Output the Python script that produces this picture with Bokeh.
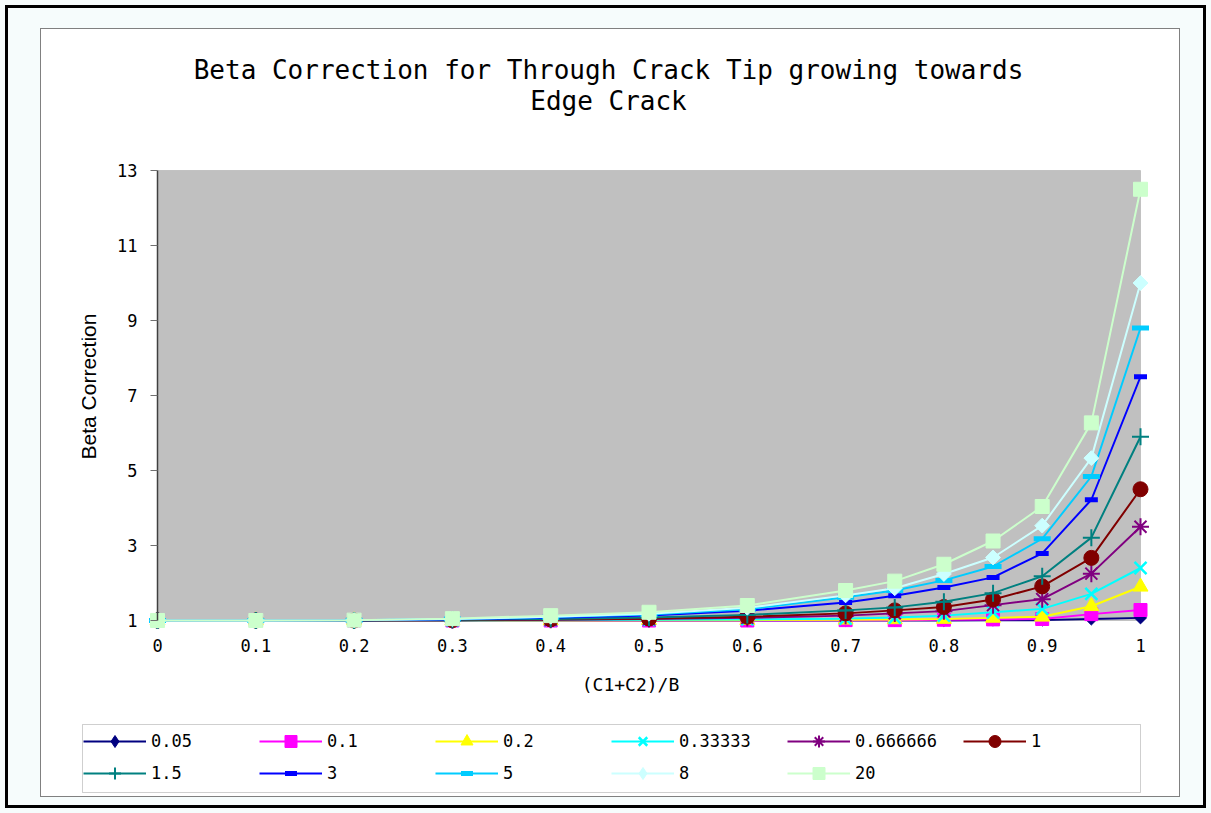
import math
from bokeh.plotting import figure
from bokeh.layouts import column
from bokeh.models import Range1d, FixedTicker, BoxAnnotation, Label, Legend, LegendItem
from bokeh.embed import file_html
from bokeh.resources import INLINE

# ---------------- data ----------------
x_values = [0, 0.1, 0.2, 0.3, 0.4, 0.5, 0.6, 0.7, 0.75, 0.8, 0.85, 0.9, 0.95, 1.0]

series_names = ["0.05", "0.1", "0.2", "0.33333", "0.666666", "1", "1.5", "3", "5", "8", "20"]

beta_0_05 = [1.00, 1.00, 1.00, 1.00, 1.00, 1.00, 1.00, 1.00, 1.00, 1.00, 1.01, 1.01, 1.04, 1.07]
beta_0_1 = [1.00, 1.00, 1.00, 1.00, 1.00, 1.00, 1.00, 1.01, 1.01, 1.02, 1.03, 1.04, 1.17, 1.28]
beta_0_2 = [1.00, 1.00, 1.00, 1.00, 1.00, 1.01, 1.01, 1.02, 1.03, 1.04, 1.07, 1.10, 1.38, 1.90]
beta_0_33333 = [1.00, 1.00, 1.00, 1.00, 1.01, 1.02, 1.03, 1.05, 1.08, 1.13, 1.22, 1.31, 1.71, 2.40]
beta_0_666666 = [1.00, 1.00, 1.00, 1.01, 1.02, 1.04, 1.07, 1.13, 1.19, 1.25, 1.41, 1.57, 2.25, 3.50]
beta_1 = [1.00, 1.00, 1.00, 1.01, 1.03, 1.05, 1.10, 1.19, 1.27, 1.36, 1.56, 1.91, 2.67, 4.50]
beta_1_5 = [1.00, 1.00, 1.00, 1.02, 1.04, 1.08, 1.15, 1.27, 1.35, 1.50, 1.73, 2.18, 3.21, 5.90]
beta_3 = [1.00, 1.00, 1.01, 1.03, 1.07, 1.13, 1.26, 1.48, 1.66, 1.88, 2.15, 2.79, 4.22, 7.50]
beta_5 = [1.00, 1.00, 1.01, 1.04, 1.09, 1.16, 1.30, 1.62, 1.80, 2.07, 2.44, 3.18, 4.84, 8.80]
beta_8 = [1.00, 1.00, 1.01, 1.04, 1.10, 1.18, 1.34, 1.67, 1.86, 2.24, 2.68, 3.53, 5.33, 10.00]
beta_20 = [1.00, 1.00, 1.01, 1.05, 1.13, 1.22, 1.40, 1.80, 2.05, 2.50, 3.12, 4.04, 6.27, 12.50]

series_values = [beta_0_05, beta_0_1, beta_0_2, beta_0_33333, beta_0_666666, beta_1,
                 beta_1_5, beta_3, beta_5, beta_8, beta_20]

x_ticks = [0, 0.1, 0.2, 0.3, 0.4, 0.5, 0.6, 0.7, 0.8, 0.9, 1]
x_tick_labels = ["0", "0.1", "0.2", "0.3", "0.4", "0.5", "0.6", "0.7", "0.8", "0.9", "1"]
y_ticks = [1, 3, 5, 7, 9, 11, 13]
y_tick_labels = ["1", "3", "5", "7", "9", "11", "13"]

title_lines = ["Beta Correction for Through Crack Tip growing towards", "Edge Crack"]
x_axis_label = "(C1+C2)/B"
y_axis_label = "Beta Correction"

# ---------------- styles ----------------
# 'key' is the marker used for the legend key (legend keys are drawn unrotated)
styles = {
    "0.05":     dict(color="#000080", marker="square",   key="diamond",  size=8.5, angle=math.pi / 4, lw=1),
    "0.1":      dict(color="#FF00FF", marker="square",   key="square",   size=13, angle=0, lw=1),
    "0.2":      dict(color="#FFFF00", marker="triangle", key="triangle", size=15, angle=0, lw=1),
    "0.33333":  dict(color="#00FFFF", marker="x",        key="x",        size=17, angle=0, lw=2.5),
    "0.666666": dict(color="#800080", marker="asterisk", key="asterisk", size=17, angle=0, lw=2),
    "1":        dict(color="#800000", marker="circle",   key="circle",   size=15, angle=0, lw=1),
    "1.5":      dict(color="#008080", marker="cross",    key="cross",    size=17, angle=0, lw=2),
    "3":        dict(color="#0000FF", marker="dash",     key="dash",     size=13, angle=0, lw=5),
    "5":        dict(color="#00CCFF", marker="dash",     key="dash",     size=17, angle=0, lw=5),
    "8":        dict(color="#CCFFFF", marker="square",   key="diamond",  size=10.5, angle=math.pi / 4, lw=1),
    "20":       dict(color="#CCFFCC", marker="square",   key="square",   size=14, angle=0, lw=1),
}

# ---------------- layout (page pixels) ----------------
W_ALL, H_ALL = 1211, 813
BOX_L, BOX_T, BOX_R, BOX_B = 41, 29, 1179, 796      # inner white chart box (inside its 1px outline)
SPLIT = 700                                         # main chart above, legend strip below
FL, FR, FT, FB = 81, BOX_R, BOX_T, 630              # main frame on the page
X0_PX, X1_PX = 157, 1140                            # where x=0 and x=1 sit
YMAX_PX, YMIN_PX = 170, 620                         # where y=13 and y=1 sit
LEG_L, LEG_R, LEG_T, LEG_B = 82, 1140, 724, 792     # legend box on the page

x_min, x_max = x_ticks[0], x_ticks[-1]
y_min, y_max = y_ticks[0], y_ticks[-1]
ppx = (X1_PX - X0_PX) / (x_max - x_min)
ppy = (YMIN_PX - YMAX_PX) / (y_max - y_min)
x_start = x_min - (X0_PX - FL) / ppx
x_end = x_max + (FR - X1_PX) / ppx
y_start = y_min - (FB - YMIN_PX) / ppy
y_end = y_max + (YMAX_PX - FT) / ppy

MONO = "DejaVu Sans Mono"
SANS = "Liberation Sans"

# ---------------- main chart ----------------
p = figure(width=BOX_R - BOX_L, height=SPLIT - BOX_T, output_backend="svg", toolbar_location=None,
           x_range=Range1d(x_start, x_end), y_range=Range1d(y_start, y_end),
           min_border_left=FL - BOX_L, min_border_right=BOX_R - FR,
           min_border_top=FT - BOX_T, min_border_bottom=SPLIT - FB)
p.border_fill_color = "white"
p.background_fill_color = "white"
p.outline_line_color = None
p.xgrid.visible = False
p.ygrid.visible = False

plot_area = BoxAnnotation(left=x_min, right=x_max, bottom=y_min, top=y_max,
                          fill_color="#C0C0C0", fill_alpha=1, line_color="#808080", line_width=1,
                          level="underlay")
p.add_layout(plot_area)

# y axis pinned to x = 0
p.yaxis.fixed_location = x_min
p.yaxis.bounds = (y_min, y_max)
p.yaxis.ticker = FixedTicker(ticks=y_ticks)
p.yaxis.major_label_overrides = {t: l for t, l in zip(y_ticks, y_tick_labels)}
p.yaxis.axis_line_color = "#404040"
p.yaxis.axis_line_width = 1.5
p.yaxis.major_tick_in = 0
p.yaxis.major_tick_out = 7
p.yaxis.major_tick_line_color = "#707070"
p.yaxis.minor_tick_line_color = None
p.yaxis.major_label_standoff = 13
p.yaxis.major_label_text_font = MONO
p.yaxis.major_label_text_font_size = "17px"
p.yaxis.major_label_text_color = "black"

p.xaxis.ticker = FixedTicker(ticks=x_ticks)
p.xaxis.major_label_overrides = {t: l for t, l in zip(x_ticks, x_tick_labels)}
p.xaxis.axis_line_color = None
p.xaxis.major_tick_line_color = None
p.xaxis.minor_tick_line_color = None
p.xaxis.major_tick_in = 0
p.xaxis.major_tick_out = 0
p.xaxis.major_label_standoff = 8
p.xaxis.major_label_text_font = MONO
p.xaxis.major_label_text_font_size = "17px"
p.xaxis.major_label_text_color = "black"
p.xaxis.axis_label = x_axis_label
p.xaxis.axis_label_text_font = MONO
p.xaxis.axis_label_text_font_size = "18px"
p.xaxis.axis_label_text_font_style = "normal"
p.xaxis.axis_label_text_color = "black"
p.xaxis.axis_label_standoff = 19

# y axis title (vertical) and chart title, inside the frame
p.add_layout(Label(x=88 - FL, y=FB - 386, x_units="screen", y_units="screen", text=y_axis_label,
                   angle=math.pi / 2, text_align="center", text_baseline="middle",
                   text_font=SANS, text_font_size="21px", text_color="black"))
for text, ypx in zip(title_lines, [69, 100]):
    p.add_layout(Label(x=608 - FL, y=FB - ypx, x_units="screen", y_units="screen", text=text,
                       text_align="center", text_baseline="middle", text_font=MONO,
                       text_font_size="26px", text_color="black"))

# series
for name, vals in zip(series_names, series_values):
    st = styles[name]
    p.line(x_values, vals, line_color=st["color"], line_width=2)
    p.scatter(x_values, vals, marker=st["marker"], size=st["size"], angle=st["angle"],
              fill_color=st["color"], line_color=st["color"], line_width=st["lw"])

# ---------------- legend strip ----------------
# the strip looks at an x window away from the data, so its renderers only feed the legend keys
lf = figure(width=BOX_R - BOX_L, height=BOX_B - SPLIT, output_backend="svg", toolbar_location=None,
            x_axis_type=None, y_axis_type=None,
            x_range=Range1d(x_max + 10, x_max + 11), y_range=Range1d(y_min, y_max),
            min_border=0, min_border_left=0, min_border_right=0, min_border_top=0, min_border_bottom=0)
lf.outline_line_color = None
lf.background_fill_color = "white"
lf.border_fill_color = "white"
lf.xgrid.visible = False
lf.ygrid.visible = False

lf.add_layout(BoxAnnotation(left=LEG_L - FL, right=LEG_R - FL, top=BOX_B - LEG_T, bottom=BOX_B - LEG_B,
                            left_units="screen", right_units="screen", top_units="screen",
                            bottom_units="screen", fill_color="white", fill_alpha=1,
                            line_color="#606060", line_width=1, level="underlay"))

items = []
for name, vals in zip(series_names, series_values):
    st = styles[name]
    lr = lf.line(x_values, vals, line_color=st["color"], line_width=2)
    sr = lf.scatter(x_values, vals, marker=st["key"], size=st["size"],
                    fill_color=st["color"], line_color=st["color"], line_width=st["lw"])
    items.append(LegendItem(label=name, renderers=[lr, sr]))

LEG_PAD = 3
legend = Legend(items=items, location=(86 - LEG_PAD - FL, BOX_B - 788), orientation="horizontal",
                ncols=6, glyph_width=63, glyph_height=30, label_width=106, label_height=30,
                label_standoff=5, spacing=2, padding=LEG_PAD, margin=0,
                border_line_color=None, background_fill_alpha=0,
                label_text_font=MONO, label_text_font_size="17px", label_text_color="black")
lf.add_layout(legend)

inner = column(p, lf, spacing=0,
               styles={"background-color": "white", "outline": "1px solid #808080"},
               margin=(BOX_T, W_ALL - BOX_R, H_ALL - BOX_B, BOX_L))
page = column(inner, spacing=0,
              styles={"background-color": "#F6FCFC", "outline": "3px solid black",
                      "outline-offset": "-8px"})

open("out.html", "w").write(file_html(page, INLINE))
